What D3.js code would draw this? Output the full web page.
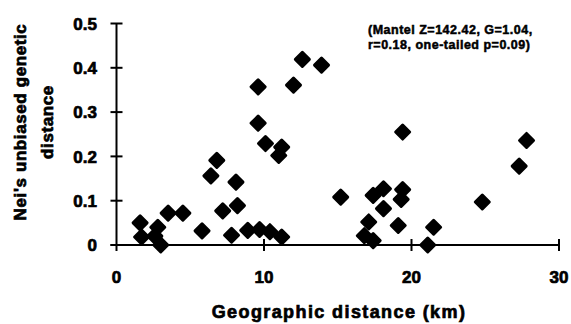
<!DOCTYPE html>
<html>
<head>
<meta charset="utf-8">
<script src="https://cdn.jsdelivr.net/npm/d3@7"></script>
<style>
  html, body { margin: 0; padding: 0; background: #fff; }
  svg { display: block; }
  text { font-family: "Liberation Sans", Arial, sans-serif; font-weight: bold; fill: #000; stroke: #000; stroke-width: 0.7px; }
</style>
</head>
<body>
<svg id="chart" width="571" height="324"></svg>
<script>
// Geographic distance (km)
const geoDistance = [1.6, 1.7, 2.8, 2.6, 3.0, 3.5, 4.5, 5.8, 6.4, 6.8, 7.2, 8.1, 8.2, 7.8, 8.9, 9.7, 10.4, 11.2,
  9.6, 12.0, 12.6, 13.9, 9.6, 10.1, 11.2, 11.0, 15.2, 19.4, 27.8, 27.3, 17.4, 18.1, 19.4, 19.3, 18.1, 24.8,
  17.1, 16.8, 17.4, 19.1, 21.5, 21.1];
// Nei's unbiased genetic distance
const geneticDistance = [0.050, 0.018, 0.040, 0.020, 0.000, 0.072, 0.072, 0.032, 0.156, 0.191, 0.077, 0.142, 0.089, 0.022, 0.033, 0.035, 0.030, 0.018,
  0.357, 0.361, 0.419, 0.406, 0.275, 0.229, 0.221, 0.202, 0.108, 0.255, 0.236, 0.178, 0.112, 0.127, 0.125, 0.103, 0.082, 0.097,
  0.052, 0.021, 0.010, 0.044, 0.040, 0.000];
const xTicks = [0, 10, 20, 30];
const yTicks = [0, 0.1, 0.2, 0.3, 0.4, 0.5];
const yTickLabels = ["0", "0.1", "0.2", "0.3", "0.4", "0.5"];
const annotationLines = ["(Mantel Z=142.42, G=1.04,", "r=0.18, one-tailed p=0.09)"];
const yTitleLines = ["Nei's unbiased genetic", "distance"];
const xTitle = "Geographic distance (km)";

const svg = d3.select("#chart");
const x = d3.scaleLinear().domain([0, 30]).range([116.5, 559]);
const y = d3.scaleLinear().domain([0, 0.5]).range([245, 23.5]);

// Axes lines
const g = svg.append("g");
g.append("line").attr("x1", x(0)).attr("x2", x(0)).attr("y1", y(0.5)).attr("y2", y(0) + 6)
  .attr("stroke", "#000").attr("stroke-width", 2);
g.append("line").attr("x1", x(0) - 6).attr("x2", x(30)).attr("y1", y(0)).attr("y2", y(0))
  .attr("stroke", "#000").attr("stroke-width", 2);

// Y ticks (crossing)
g.selectAll(".yt").data(yTicks).enter().append("line")
  .attr("x1", x(0) - 6).attr("x2", x(0) + 6)
  .attr("y1", d => y(d)).attr("y2", d => y(d))
  .attr("stroke", "#000").attr("stroke-width", 2);
// X ticks (crossing)
g.selectAll(".xt").data(xTicks.slice(1)).enter().append("line")
  .attr("x1", d => x(d)).attr("x2", d => x(d))
  .attr("y1", y(0) - 6).attr("y2", y(0) + 6)
  .attr("stroke", "#000").attr("stroke-width", 2);

// Y tick labels
g.selectAll(".yl").data(yTicks).enter().append("text")
  .attr("x", 97).attr("y", d => y(d)).attr("dy", "0.36em")
  .attr("text-anchor", "end").attr("font-size", 17)
  .text((d, i) => yTickLabels[i]);
// X tick labels
g.selectAll(".xl").data(xTicks).enter().append("text")
  .attr("x", d => x(d)).attr("y", 283)
  .attr("text-anchor", "middle").attr("font-size", 17)
  .text(d => d);

// Y title
const yt = svg.append("text").attr("transform", "translate(0,122) rotate(-90)")
  .attr("text-anchor", "middle").attr("font-size", 17).attr("letter-spacing", 0.6);
yt.append("tspan").attr("x", 0).attr("y", 26).text(yTitleLines[0]);
yt.append("tspan").attr("x", 0).attr("y", 53).text(yTitleLines[1]);

// X title
svg.append("text").attr("x", 339).attr("y", 318).attr("text-anchor", "middle")
  .attr("font-size", 18).attr("letter-spacing", 1.4).text(xTitle);

// Annotation
annotationLines.forEach((t, i) => {
  svg.append("text").attr("x", 368).attr("y", 34 + i * 14.5)
    .attr("font-size", 12.5).attr("letter-spacing", 0.5).attr("style", "stroke-width:0.5px").text(t);
});

// Points (diamonds with rounded corners)
const r = 7;
const diamond = `M0,${-r}L${r},0L0,${r}L${-r},0Z`;
svg.append("g").selectAll("path").data(geoDistance.map((d, i) => [d, geneticDistance[i]]))
  .enter().append("path")
  .attr("d", diamond)
  .attr("transform", d => `translate(${x(d[0])},${y(d[1])})`)
  .attr("fill", "#000").attr("stroke", "#000").attr("stroke-width", 3)
  .attr("stroke-linejoin", "round");
</script>
</body>
</html>
